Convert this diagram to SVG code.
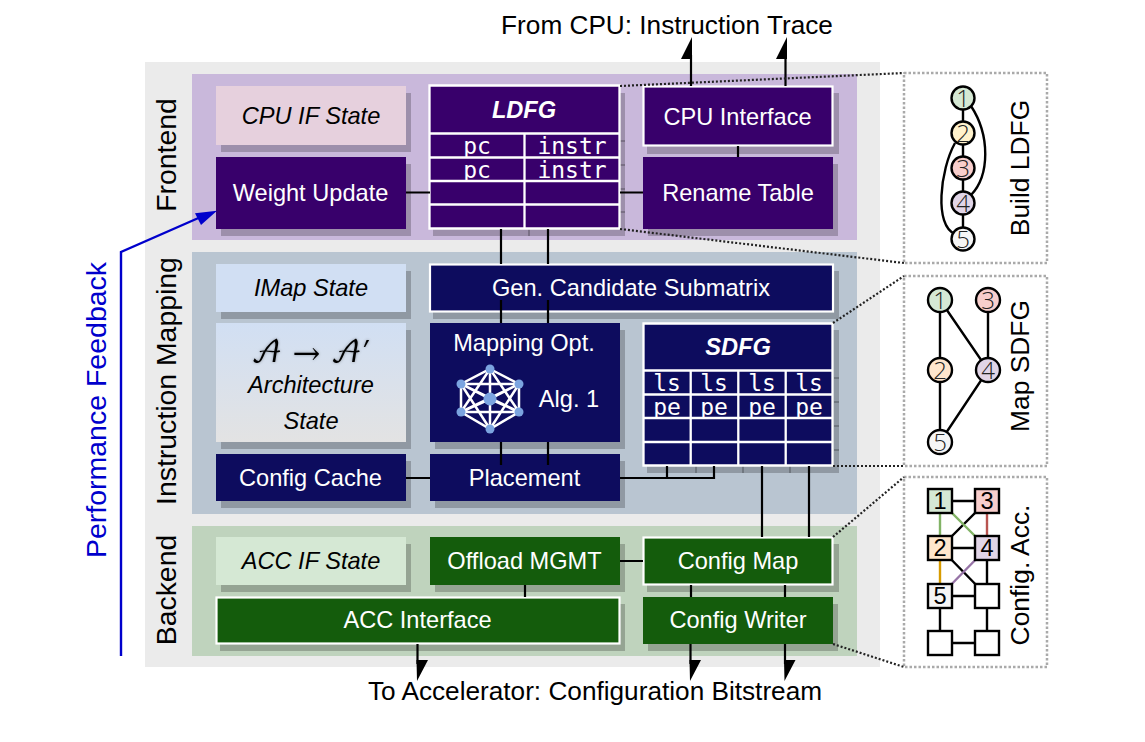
<svg xmlns="http://www.w3.org/2000/svg" width="1145" height="742" viewBox="0 0 1145 742">
<style>
text{font-family:"Liberation Sans",Arial,sans-serif;text-anchor:middle}
.t{font-size:23.6px;fill:#fff}
.s{font-size:23.6px;font-style:italic;fill:#000}
.h{font-size:23.6px;font-style:italic;font-weight:bold;fill:#fff}
.m{font-family:"DejaVu Sans Mono",monospace;font-size:23px;fill:#fff}
.big{font-size:26.2px;fill:#000}
.lab{font-size:28.4px;fill:#000}
.side{font-size:26.4px;fill:#000}
.num{font-family:"Open Sans",sans-serif;font-weight:300;font-size:24px;fill:#222}
.sq{font-size:23.6px;fill:#000}
.sh{fill:#000;fill-opacity:.22}
.pu{fill:#38006b}.na{fill:#0d0c5e}.gr{fill:#145c0c}
.wb{stroke:#fff;stroke-width:2.2}
.grid{stroke:#fff;stroke-width:2.3;fill:none}
.c{stroke:#000;stroke-width:2.2;fill:none}
.d{stroke:#222;stroke-width:2.2;stroke-dasharray:2 2;fill:none}
.panel{stroke:#aaa;stroke-width:2.5;stroke-dasharray:2.5 2;fill:#fff}
.e{stroke:#000;stroke-width:2.4;fill:none}
.n{stroke:#000;stroke-width:2.4}
.ic{stroke:#fff;stroke-width:2.5;fill:none}
.icn{fill:#7ba4e0}
</style>
<defs>
<linearGradient id="arch" x1="0" y1="0" x2="0" y2="1"><stop offset="0" stop-color="#d1dff3"/><stop offset="1" stop-color="#e3e3e3"/></linearGradient>
<filter id="glow" x="-10%" y="-20%" width="120%" height="140%"><feDropShadow dx="0" dy="0" stdDeviation="1.5" flood-color="#000" flood-opacity=".35"/></filter>
</defs>

<g id="bands">
<rect x="145" y="62" width="735" height="605" fill="#ebebeb"/>
<rect x="192" y="74" width="665" height="166" fill="#c9b8db"/>
<rect x="192" y="252" width="665" height="262" fill="#b9c5d1"/>
<rect x="192" y="526" width="665" height="130" fill="#bfd3bd"/>
<text class="lab" transform="translate(176 155) rotate(-90)">Frontend</text>
<text class="lab" transform="translate(176 381) rotate(-90)">Instruction Mapping</text>
<text class="lab" transform="translate(176 590) rotate(-90)">Backend</text>
</g>

<g id="panels">
<rect class="panel" x="904" y="73" width="143" height="190"/>
<rect class="panel" x="904" y="276" width="143" height="190"/>
<rect class="panel" x="904" y="477" width="143" height="190"/>
</g>

<g id="n-cpu-if-state"><rect class="sh" x="221" y="93" width="190" height="59"/><rect x="216" y="86" width="190" height="59" fill="#e6d0dd"/><text class="s" x="311" y="124">CPU IF State</text></g>
<g id="n-weight-update"><rect class="sh" x="221" y="164" width="190" height="72"/><rect class="pu" x="216" y="157" width="190" height="72"/><text class="t" x="310.500" y="201">Weight Update</text></g>
<g id="n-ldfg">
<rect class="sh" x="433" y="93" width="192" height="143"/>
<rect class="sh" x="620" y="140" width="5" height="2"/><rect class="sh" x="620" y="164" width="5" height="2"/><rect class="sh" x="620" y="188" width="5" height="2"/><rect class="sh" x="620" y="211" width="5" height="2"/><rect class="sh" x="528" y="229" width="2" height="7"/>
<rect class="pu" x="430" y="86" width="189" height="143"/>
<text class="h" x="524" y="118">LDFG</text>
<text class="m" x="477" y="154">pc</text><text class="m" x="572" y="154">instr</text>
<rect class="pu" x="431" y="158" width="187" height="24"/>
<text class="m" x="477" y="178">pc</text><text class="m" x="572" y="178">instr</text>
<rect class="pu" x="431" y="182" width="187" height="46"/>
<path class="grid" d="M429.5 85.5H619.5V228.5H429.5ZM430 133.5H619M430 157.5H619M430 181H619M430 204.5H619M524.5 133.5V228.5"/>
</g>
<g id="n-cpu-interface"><rect class="sh" x="647" y="93" width="192" height="61"/><rect class="pu wb" x="643.5" y="86.5" width="189" height="59"/><text class="t" x="737.500" y="125">CPU Interface</text></g>
<g id="n-rename-table"><rect class="sh" x="648" y="164" width="190" height="72"/><rect class="pu" x="643" y="157" width="190" height="72"/><text class="t" x="738" y="201">Rename Table</text></g>

<g id="n-imap-state"><rect class="sh" x="221" y="271" width="190" height="48"/><rect x="216" y="264" width="190" height="48" fill="#d1dff3"/><text class="s" x="311" y="296">IMap State</text></g>
<g id="n-arch-state"><rect class="sh" x="221" y="330" width="190" height="119"/><rect x="216" y="323" width="190" height="119" fill="url(#arch)"/>
<text x="311" y="362" font-size="29.500" style="font-family:'DejaVu Math TeX Gyre','Noto Sans Math','DejaVu Serif',serif" filter="url(#glow)">𝒜 → 𝒜′</text>
<text class="s" x="311" y="393">Architecture</text><text class="s" x="311" y="429">State</text></g>
<g id="n-config-cache"><rect class="sh" x="221" y="461" width="190" height="47"/><rect class="na" x="216" y="454" width="190" height="47"/><text class="t" x="310.500" y="486">Config Cache</text></g>
<g id="n-gen-candidate"><rect class="sh" x="433" y="271" width="406" height="48"/><rect class="na wb" x="430" y="264.5" width="403" height="47"/><text class="t" x="631" y="296">Gen. Candidate Submatrix</text></g>
<g id="n-mapping-opt"><rect class="sh" x="435" y="330" width="190" height="119"/><rect class="na" x="430" y="323" width="190" height="119"/>
<text class="t" x="524" y="351">Mapping Opt.</text><text class="t" x="569" y="407">Alg. 1</text>
<path class="ic" d="M490 369L519 384L519 412L490 429L461 412L461 384ZM490 369V429M490 369L519 412M490 369L461 412M519 384L461 384M519 384L461 412M519 384L490 429M519 412L461 412M519 412L461 384M461 384L490 429M461 412L490 369M490 399L461 384M490 399L519 384M490 399L461 412M490 399L519 412"/>
<circle class="icn" cx="490" cy="369" r="4.500"/><circle class="icn" cx="519" cy="384" r="4.500"/><circle class="icn" cx="519" cy="412" r="4.500"/><circle class="icn" cx="490" cy="429" r="4.500"/><circle class="icn" cx="461" cy="412" r="4.500"/><circle class="icn" cx="461" cy="384" r="4.500"/><circle class="icn" cx="490" cy="399" r="6.500"/></g>
<g id="n-placement"><rect class="sh" x="435" y="461" width="190" height="47"/><rect class="na" x="430" y="454" width="190" height="47"/><text class="t" x="524.500" y="486">Placement</text></g>
<g id="n-sdfg">
<rect class="sh" x="647" y="330" width="192" height="143"/>
<rect class="sh" x="834" y="377" width="5" height="2"/><rect class="sh" x="834" y="401" width="5" height="2"/><rect class="sh" x="834" y="425" width="5" height="2"/><rect class="sh" x="834" y="449" width="5" height="2"/><rect class="sh" x="695" y="466" width="2" height="7"/><rect class="sh" x="742" y="466" width="2" height="7"/><rect class="sh" x="789" y="466" width="2" height="7"/>
<rect class="na" x="643" y="323" width="190" height="143"/>
<text class="h" x="738" y="355">SDFG</text>
<text class="m" x="667" y="391">ls</text><text class="m" x="714" y="391">ls</text><text class="m" x="762" y="391">ls</text><text class="m" x="809" y="391">ls</text>
<text class="m" x="667" y="415">pe</text><text class="m" x="714" y="415">pe</text><text class="m" x="762" y="415">pe</text><text class="m" x="809" y="415">pe</text>
<rect class="na" x="644" y="418" width="188" height="47"/>
<path class="grid" d="M643.5 323.5H832.5V465.5H643.5ZM644 370.5H832M644 394.5H832M644 418H832M644 442H832M690.7 370.5V465.5M738.3 370.5V465.5M785.7 370.5V465.5"/>
</g>

<g id="n-acc-if-state"><rect class="sh" x="221" y="544" width="190" height="48"/><rect x="216" y="537" width="190" height="48" fill="#d5e8d4"/><text class="s" x="311" y="569">ACC IF State</text></g>
<g id="n-offload"><rect class="sh" x="435" y="544" width="190" height="48"/><rect class="gr" x="430" y="537" width="190" height="48"/><text class="t" x="524.500" y="569">Offload MGMT</text></g>
<g id="n-config-map"><rect class="sh" x="647" y="544" width="192" height="48"/><rect class="gr wb" x="643.5" y="537.5" width="189" height="47"/><text class="t" x="738" y="569">Config Map</text></g>
<g id="n-acc-interface"><rect class="sh" x="220" y="604" width="405" height="47"/><rect class="gr wb" x="216.5" y="597.5" width="403" height="46"/><text class="t" x="417.500" y="628">ACC Interface</text></g>
<g id="n-config-writer"><rect class="sh" x="648" y="604" width="190" height="47"/><rect class="gr" x="643" y="597" width="190" height="47"/><text class="t" x="738" y="628">Config Writer</text></g>

<g id="connectors">
<path class="c" d="M691 86V55M785.500 86V55"/>
<path d="M692 37L681 59H692ZM787 37L776 59H787Z"/>
<path class="c" d="M406 192.500H430M620 192.500H643M738 146V157M501 229V252M548 229V252M501 252V264M548 252V264M501 300V323M548 300V323M501 442V465M548 442V465M406 478H430M620 478H714V466M667 478V466M762 466V537M809 466V537M620 561H643M525 585V597M691 585V597M785 585V597M417.500 644V664M690.500 644V664M785 644V664"/>
<path d="M417 681L428 660H416.500ZM690 681L701 660H689.500ZM784.500 681L795.500 660H784Z"/>
<path d="M121 656V252L203 216" fill="none" stroke="#0000cc" stroke-width="2.4"/>
<path d="M217 210.700L195 213.300L201 225Z" fill="#0000cc"/>
<path class="d" d="M620 86L904 73M620 229L904 263M833 323L904 276M833 466H904M833 537L904 477M833 644L904 667"/>
</g>

<g id="graph-ldfg">
<path class="e" d="M963 98V239M971 106C990 135 990 175 971 195M955 143C940 170 934 226 955 234"/>
<circle class="n" cx="963" cy="98" r="11.500" fill="#d5e8d4"/><circle class="n" cx="963" cy="133" r="11.500" fill="#fff2cc"/><circle class="n" cx="963" cy="168" r="11.500" fill="#f8cecc"/><circle class="n" cx="963" cy="203" r="11.500" fill="#e1d5e7"/><circle class="n" cx="963" cy="239" r="11.500" fill="#f5f5f5"/>
<text class="num" x="963" y="106.500">1</text><text class="num" x="963" y="141.500">2</text><text class="num" x="963" y="176.500">3</text><text class="num" x="963" y="211.500">4</text><text class="num" x="963" y="247.500">5</text>
<text class="side" transform="translate(1029 168) rotate(-90)">Build LDFG</text>
</g>
<g id="graph-sdfg">
<path class="e" d="M940 300V442M988 300V370M940 300L988 370L940 442"/>
<circle class="n" cx="940" cy="300" r="12" fill="#d5e8d4"/><circle class="n" cx="988" cy="300" r="12" fill="#f8cecc"/><circle class="n" cx="940" cy="370" r="12" fill="#ffe6cc"/><circle class="n" cx="988" cy="370" r="12" fill="#e1d5e7"/><circle class="n" cx="940" cy="442" r="12" fill="#f5f5f5"/>
<text class="num" x="940" y="308.500">1</text><text class="num" x="988" y="308.500">3</text><text class="num" x="940" y="378.500">2</text><text class="num" x="988" y="378.500">4</text><text class="num" x="940" y="450.500">5</text>
<text class="side" transform="translate(1029 366) rotate(-90)">Map SDFG</text>
</g>
<g id="graph-acc">
<path class="e" d="M940 501H987M987 501L940 548M940 548H987M940 548L987 596M987 548V643M940 596H987M940 596V643M940 643H987"/>
<path d="M940 501V548L940 501L987 548" fill="none" stroke="#82b366" stroke-width="2.400"/>
<path d="M987 501V548" stroke="#b85450" stroke-width="2.400"/>
<path d="M940 548V596" stroke="#d79b00" stroke-width="2.400"/>
<path d="M987 548L940 596" stroke="#9673a6" stroke-width="2.400"/>
<rect class="n" x="928" y="489" width="24" height="24" fill="#d5e8d4"/><rect class="n" x="975" y="489" width="24" height="24" fill="#f8cecc"/>
<rect class="n" x="928" y="536" width="24" height="24" fill="#ffe6cc"/><rect class="n" x="975" y="536" width="24" height="24" fill="#e1d5e7"/>
<rect class="n" x="928" y="584" width="24" height="24" fill="#f5f5f5"/><rect class="n" x="975" y="584" width="24" height="24" fill="#fff"/>
<rect class="n" x="928" y="631" width="24" height="24" fill="#fff"/><rect class="n" x="975" y="631" width="24" height="24" fill="#fff"/>
<text class="sq" x="940" y="509">1</text><text class="sq" x="987" y="509">3</text><text class="sq" x="940" y="556">2</text><text class="sq" x="987" y="556">4</text><text class="sq" x="940" y="604">5</text>
<text class="side" transform="translate(1029 575) rotate(-90)">Config. Acc.</text>
</g>

<g id="labels">
<text class="big" x="667" y="34">From CPU: Instruction Trace</text>
<text class="big" x="595" y="700">To Accelerator: Configuration Bitstream</text>
<text transform="translate(106 410) rotate(-90)" font-size="28.500" fill="#0000cc">Performance Feedback</text>
</g>
</svg>
